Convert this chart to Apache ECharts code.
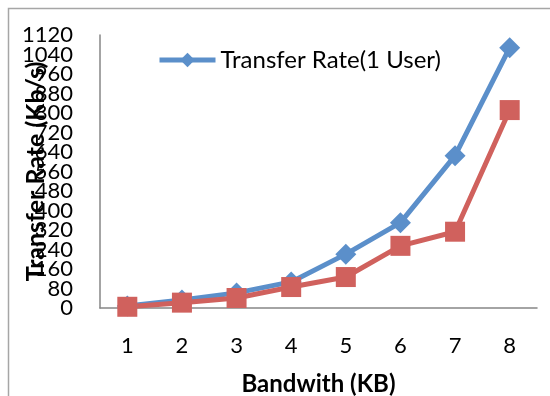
<!DOCTYPE html>
<html>
<head>
<meta charset="utf-8">
<script src="https://cdn.jsdelivr.net/npm/echarts@6/dist/echarts.min.js"></script>
<style>
  html, body { margin: 0; padding: 0; background: #fff; }
  #chart { width: 550px; height: 396px; }
</style>
</head>
<body>
<div id="chart"></div>
<script>
// Bandwidth steps on the x axis
const bandwidths = ['1', '2', '3', '4', '5', '6', '7', '8'];
// Transfer rate for a single user (Kb/s)
const rateOneUser = [8, 33, 62, 107, 221, 350, 625, 1068];
// Transfer rate for the second run (Kb/s)
const rateSecond = [5, 22, 41, 86, 127, 255, 313, 812];
// Rate axis tick labels, bottom to top (every 80 Kb/s)
const rateTicks = ['0', '80', '160', '240', '320', '400', '480', '560', '640',
                   '720', '800', '880', '960', '1040', '1120'];

const fontFamily = 'Lato, "Open Sans", "Liberation Sans", sans-serif';
const axisGrey = '#868686';
const blue = '#5b8fca';
const red = '#d0615d';

const chart = echarts.init(document.getElementById('chart'), null, { renderer: 'canvas' });
chart.setOption({
  animation: false,
  backgroundColor: '#fff',
  textStyle: { fontFamily: fontFamily },
  graphic: [{
    type: 'rect',
    shape: { x: 8.5, y: 8.5, width: 560, height: 400 },
    style: { fill: 'none', stroke: '#a6a6a6', lineWidth: 1.5 },
    silent: true
  }],
  legend: {
    data: ['Transfer Rate(1 User)'],
    left: 152,
    top: 43,
    itemWidth: 56,
    itemHeight: 18,
    itemGap: 4,
    lineStyle: { width: 5 },
    textStyle: { fontSize: 24, color: '#000', fontFamily: fontFamily }
  },
  grid: { left: 100, top: 35, right: 13, bottom: 88, outerBoundsMode: 'none', containLabel: false },
  xAxis: {
    type: 'category',
    data: bandwidths,
    boundaryGap: true,
    name: 'Bandwith (KB)',
    nameLocation: 'middle',
    nameGap: 64,
    nameMoveOverlap: false,
    nameTextStyle: { fontSize: 24, fontWeight: 'bold', color: '#000', fontFamily: fontFamily },
    axisLine: { lineStyle: { color: axisGrey, width: 1.5 } },
    axisTick: { show: false },
    axisLabel: { fontSize: 22, color: '#000', margin: 27, fontFamily: fontFamily }
  },
  yAxis: [
    {
      // value scale used by the series
      type: 'value',
      min: 0,
      max: 1120,
      interval: 80,
      name: 'Transfer Rate (Kb/s)',
      nameLocation: 'middle',
      nameRotate: 90,
      nameGap: 52,
      nameMoveOverlap: false,
      nameTextStyle: { fontSize: 25, fontWeight: 'bold', color: '#000', fontFamily: fontFamily },
      splitLine: { show: false },
      axisLine: { show: true, lineStyle: { color: axisGrey, width: 1.5 } },
      axisTick: { show: false },
      axisLabel: { show: false }
    },
    {
      // tick labels at every 80 Kb/s step, all shown even though they crowd
      type: 'category',
      data: rateTicks,
      boundaryGap: false,
      position: 'left',
      splitLine: { show: false },
      axisLine: { show: false },
      axisTick: { show: false },
      axisLabel: {
        interval: 0,
        hideOverlap: false,
        padding: [5, 0, 0, 0],
        fontSize: 22, color: '#000', margin: 27, fontFamily: fontFamily
      }
    }
  ],
  series: [
    {
      name: 'Transfer Rate(1 User)',
      type: 'line',
      yAxisIndex: 0,
      data: rateOneUser,
      symbol: 'diamond',
      symbolSize: 21,
      lineStyle: { width: 5, color: blue },
      itemStyle: { color: blue }
    },
    {
      name: 'Transfer Rate(2 Users)',
      type: 'line',
      yAxisIndex: 0,
      data: rateSecond,
      symbol: 'rect',
      symbolSize: 20,
      lineStyle: { width: 5, color: red },
      itemStyle: { color: red }
    }
  ]
});
</script>
</body>
</html>
